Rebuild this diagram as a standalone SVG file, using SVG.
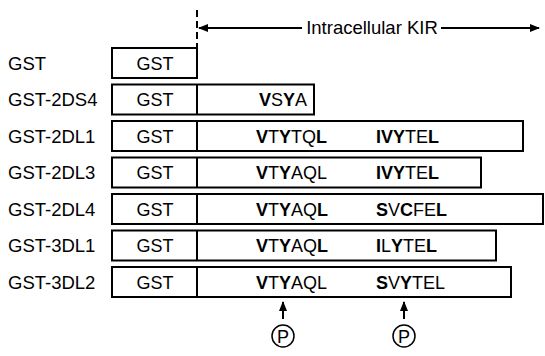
<svg xmlns="http://www.w3.org/2000/svg" width="545" height="356" viewBox="0 0 545 356">
<style>
text{font-family:"Liberation Sans",Arial,sans-serif;font-size:18px;fill:#000}
.lbl{font-size:18.5px}
.box{fill:#fff;stroke:#000;stroke-width:2}
.ln{stroke:#000;stroke-width:2;fill:none}
.b{font-weight:bold}
.c{text-anchor:middle}
</style>
<defs>
<marker id="ah" viewBox="0 0 10 10" refX="9" refY="5" markerWidth="5" markerHeight="5" orient="auto-start-reverse" markerUnits="strokeWidth">
<path d="M0,1 L10,5 L0,9 Z" fill="#000"/>
</marker>
</defs>
<g id="connectors">
<line class="ln" x1="197" y1="10" x2="197" y2="48" stroke-dasharray="7,4"/>
<line class="ln" x1="199" y1="28" x2="302" y2="28" marker-start="url(#ah)"/>
<line class="ln" x1="441" y1="28" x2="539" y2="28" marker-end="url(#ah)"/>
<line class="ln" x1="283" y1="319" x2="283" y2="302" marker-end="url(#ah)"/>
<line class="ln" x1="404" y1="319" x2="404" y2="302" marker-end="url(#ah)"/>
</g>
<g id="kir-label"><text x="372" y="34" class="c lbl">Intracellular KIR</text></g>
<g id="gst">
<text x="8" y="70" class="lbl">GST</text>
<rect class="box" x="112" y="48" width="85" height="30"/>
<text x="155" y="70" class="c">GST</text>
</g>
<g id="gst-2ds4">
<text x="8" y="106" class="lbl">GST-2DS4</text>
<rect class="box" x="112" y="84.5" width="202" height="30"/>
<line class="ln" x1="197" y1="84.5" x2="197" y2="114.5"/>
<text x="155" y="106" class="c">GST</text>
<text x="307" y="106" text-anchor="end"><tspan class="b">V</tspan>S<tspan class="b">Y</tspan>A</text>
</g>
<g id="gst-2dl1">
<text x="8" y="143" class="lbl">GST-2DL1</text>
<rect class="box" x="112" y="121" width="411" height="30"/>
<line class="ln" x1="197" y1="121" x2="197" y2="151"/>
<text x="155" y="143" class="c">GST</text>
<text x="256" y="143"><tspan class="b">V</tspan>T<tspan class="b">Y</tspan>TQ<tspan class="b">L</tspan></text>
<text x="376" y="143"><tspan class="b">IVY</tspan>TE<tspan class="b">L</tspan></text>
</g>
<g id="gst-2dl3">
<text x="8" y="179" class="lbl">GST-2DL3</text>
<rect class="box" x="112" y="157.5" width="369" height="30"/>
<line class="ln" x1="197" y1="157.5" x2="197" y2="187.5"/>
<text x="155" y="179" class="c">GST</text>
<text x="256" y="179"><tspan class="b">V</tspan>T<tspan class="b">Y</tspan>AQL</text>
<text x="376" y="179"><tspan class="b">IVY</tspan>TE<tspan class="b">L</tspan></text>
</g>
<g id="gst-2dl4">
<text x="8" y="216" class="lbl">GST-2DL4</text>
<rect class="box" x="112" y="194" width="431" height="30"/>
<line class="ln" x1="197" y1="194" x2="197" y2="224"/>
<text x="155" y="216" class="c">GST</text>
<text x="256" y="216"><tspan class="b">V</tspan>T<tspan class="b">Y</tspan>AQ<tspan class="b">L</tspan></text>
<text x="376" y="216"><tspan class="b">S</tspan>V<tspan class="b">C</tspan>FE<tspan class="b">L</tspan></text>
</g>
<g id="gst-3dl1">
<text x="8" y="252" class="lbl">GST-3DL1</text>
<rect class="box" x="112" y="230.5" width="384" height="30"/>
<line class="ln" x1="197" y1="230.5" x2="197" y2="260.5"/>
<text x="155" y="252" class="c">GST</text>
<text x="256" y="252"><tspan class="b">V</tspan>T<tspan class="b">Y</tspan>AQ<tspan class="b">L</tspan></text>
<text x="376" y="252"><tspan class="b">I</tspan>L<tspan class="b">Y</tspan>TE<tspan class="b">L</tspan></text>
</g>
<g id="gst-3dl2">
<text x="8" y="289" class="lbl">GST-3DL2</text>
<rect class="box" x="112" y="267" width="399" height="30"/>
<line class="ln" x1="197" y1="267" x2="197" y2="297"/>
<text x="155" y="289" class="c">GST</text>
<text x="256" y="289"><tspan class="b">V</tspan>T<tspan class="b">Y</tspan>AQL</text>
<text x="376" y="289"><tspan class="b">S</tspan>V<tspan class="b">Y</tspan>TEL</text>
</g>
<g id="p1">
<circle cx="283" cy="336" r="11" fill="none" stroke="#000" stroke-width="1.5"/>
<text x="283" y="342.5" class="c">P</text>
</g>
<g id="p2">
<circle cx="404" cy="336" r="11" fill="none" stroke="#000" stroke-width="1.5"/>
<text x="404" y="342.5" class="c">P</text>
</g>
</svg>
